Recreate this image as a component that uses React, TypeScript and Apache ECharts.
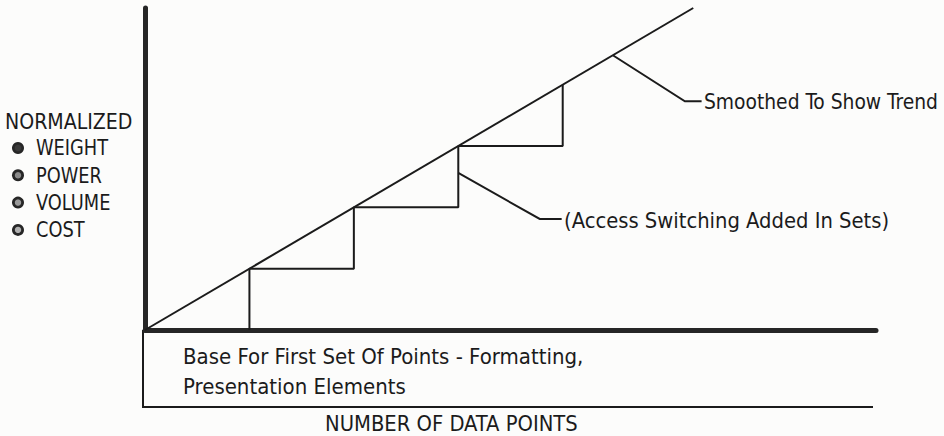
import React, { useEffect, useRef } from "react";
import * as echarts from "echarts";

// ---- data (normalized units: x = sets of data points, y = normalized weight/power/volume/cost)
const trendLine: number[][] = [
  [0, 0],
  [5.25, 5.25],
];
const stepLine: number[][] = [
  [1, 0],
  [1, 1],
  [2, 1],
  [2, 2],
  [3, 2],
  [3, 3],
  [4, 3],
  [4, 4],
];
const smoothedLeader: number[][] = [
  [4.48, 4.48],
  [5.17, 3.73],
  [5.33, 3.73],
];
const accessLeader: number[][] = [
  [3.0, 2.56],
  [3.78, 1.81],
  [3.99, 1.81],
];
const legendItems: string[] = ["WEIGHT", "POWER", "VOLUME", "COST"];
const yTitle = "NORMALIZED";
const xTitle = "NUMBER OF DATA POINTS";
const baseLines: string[] = [
  "Base For First Set Of Points - Formatting,",
  "Presentation Elements",
];
const smoothedLabel = "Smoothed To Show Trend";
const accessLabel = "(Access Switching Added In Sets)";

const FONT = '"DejaVu Sans Condensed", "Liberation Sans Narrow", "DejaVu Sans", sans-serif';
const INK = "#1b1b1b";

function txt(text: string, x: number, y: number, size: number, sx = 1) {
  return {
    type: "text",
    x,
    y,
    scaleX: sx,
    style: { text, fontFamily: FONT, fontSize: size, fill: INK, verticalAlign: "middle" },
  };
}

export default function App() {
  const ref = useRef<HTMLDivElement>(null);
  useEffect(() => {
    if (!ref.current) return;
    const chart = echarts.init(ref.current, undefined, { renderer: "svg" });

    const bulletFills = ["#3a3a3a", "#8a8a8a", "#9a9a9a", "#b0b0b0"];
    const graphics: any[] = [];
    graphics.push(txt(yTitle, 5, 121, 22, 0.96));
    legendItems.forEach((t, i) => {
      const cy = 148 + i * 27.3;
      graphics.push({
        type: "circle",
        shape: { cx: 18, cy, r: 6 },
        style: {
          fill: {
            type: "radial",
            x: 0.5,
            y: 0.5,
            r: 0.5,
            colorStops: [
              { offset: 0, color: bulletFills[i] },
              { offset: 0.45, color: bulletFills[i] },
              { offset: 0.6, color: "#2a2a2a" },
              { offset: 1, color: "#222" },
            ],
          },
        },
      });
      graphics.push(txt(t, 36, cy, 22, 0.9));
    });
    // base box
    graphics.push({
      type: "polyline",
      shape: { points: [[143, 330], [143, 407], [873, 407]] },
      style: { stroke: INK, lineWidth: 2, fill: null },
    });
    baseLines.forEach((t, i) => {
      graphics.push(txt(t, 183, 356 + i * 30, 22, 1));
    });
    graphics.push(txt(xTitle, 325, 423, 22, 0.99));
    graphics.push(txt(smoothedLabel, 704, 101, 22, 0.945));
    graphics.push(txt(accessLabel, 564, 220, 22, 0.99));

    chart.setOption({
      animation: false,
      backgroundColor: "#fcfcfb",
      grid: { left: 145, right: 68, top: 8, bottom: 106, containLabel: false },
      xAxis: {
        type: "value",
        min: 0,
        max: 7,
        axisLine: { show: true, lineStyle: { color: "#262626", width: 5 } },
        axisTick: { show: false },
        axisLabel: { show: false },
        splitLine: { show: false },
      },
      yAxis: {
        type: "value",
        min: 0,
        max: 5.25,
        axisLine: { show: true, lineStyle: { color: "#262626", width: 5 } },
        axisTick: { show: false },
        axisLabel: { show: false },
        splitLine: { show: false },
      },
      series: [
        {
          type: "line",
          data: trendLine,
          showSymbol: false,
          lineStyle: { color: INK, width: 2 },
          z: 3,
        },
        {
          type: "line",
          data: stepLine,
          showSymbol: false,
          lineStyle: { color: INK, width: 2 },
          z: 3,
        },
        {
          type: "lines",
          coordinateSystem: "cartesian2d",
          polyline: true,
          symbol: ["arrow", "none"],
          symbolSize: 8,
          lineStyle: { color: INK, width: 2, opacity: 1 },
          data: [{ coords: smoothedLeader }, { coords: accessLeader }],
          z: 4,
        },
      ],
      graphic: graphics,
    });
    return () => chart.dispose();
  }, []);
  return (
    <div
      ref={ref}
      style={{ position: "fixed", left: 0, top: 0, width: 944, height: 436 }}
    />
  );
}
